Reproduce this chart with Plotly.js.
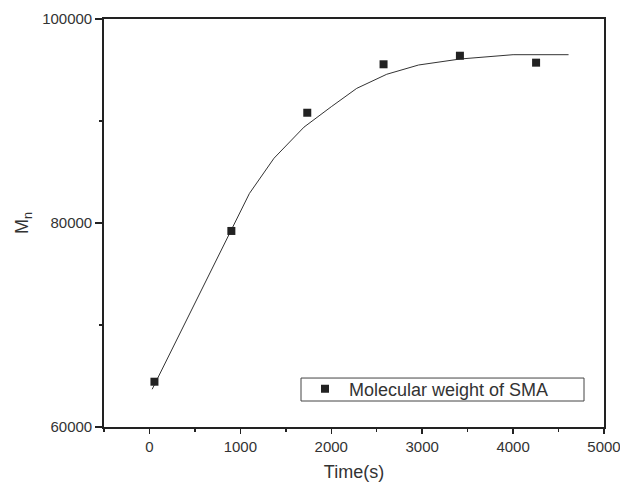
<!DOCTYPE html>
<html>
<head>
<meta charset="utf-8">
<script src="https://cdn.plot.ly/plotly-3.0.1.min.js"></script>
<style>html,body{margin:0;padding:0;background:#fff;}#chart{width:620px;height:482px;}</style>
</head>
<body>
<div id="chart"></div>
<script>
// measured data points
var timeS = [55, 901, 1736, 2575, 3415, 4253];
var mn = [64440, 79220, 90810, 95560, 96400, 95720];
// fitted curve
var fitT = [30, 900, 1100, 1370, 1700, 2000, 2280, 2610, 2960, 3420, 3750, 4000, 4610];
var fitM = [63700, 79300, 82900, 86350, 89400, 91400, 93200, 94580, 95490, 96080, 96300, 96500, 96500];
var seriesName = "Molecular weight of SMA";

var font = "Liberation Sans, Arial, sans-serif";
var traces = [
  {x: fitT, y: fitM, type: "scatter", mode: "lines", showlegend: false, hoverinfo: "skip",
   line: {color: "#333333", width: 1}},
  {x: timeS, y: mn, type: "scatter", mode: "markers", name: seriesName,
   marker: {symbol: "square", size: 8, color: "#222222"}}
];
var axisCommon = {
  showgrid: false, zeroline: false, showline: true, linecolor: "#222222", linewidth: 1.8,
  mirror: true, ticks: "outside", tickcolor: "#222222", tickwidth: 1.5,
  ticklabeloverflow: "allow",
  tickfont: {family: font, size: 15, color: "#333333"}
};
var layout = {
  width: 620, height: 482,
  margin: {l: 104, r: 16, t: 19, b: 55},
  paper_bgcolor: "#ffffff", plot_bgcolor: "#ffffff",
  font: {family: font, color: "#333333"},
  xaxis: Object.assign({}, axisCommon, {
    range: [-500, 5000], tickmode: "linear", tick0: 0, dtick: 1000, ticklen: 5,
    minor: {dtick: 500, ticklen: 3, tickcolor: "#222222", showgrid: false},
    title: {text: "Time(s)", font: {family: font, size: 18, color: "#333333"}, standoff: 16}
  }),
  yaxis: Object.assign({}, axisCommon, {
    range: [60000, 100000], tickmode: "linear", tick0: 60000, dtick: 20000, ticklen: 7,
    tickformat: "d",
    minor: {dtick: 10000, ticklen: 3, tickcolor: "#222222", showgrid: false},
    title: {text: "M<sub>n</sub>", font: {family: font, size: 18, color: "#333333"}, standoff: 9}
  }),
  legend: {
    x: 0.394, y: 0.1385, xanchor: "left", yanchor: "top",
    itemwidth: 38,
    bgcolor: "rgba(0,0,0,0)", borderwidth: 0,
    font: {family: font, size: 18, color: "#333333"}
  },
  shapes: [{
    type: "rect", xref: "paper", yref: "paper",
    x0: 0.394, x1: 0.96, y0: 0.0637, y1: 0.120,
    line: {color: "#444444", width: 1}, fillcolor: "rgba(0,0,0,0)"
  }],
  showlegend: true
};
Plotly.newPlot("chart", traces, layout, {displayModeBar: false, staticPlot: true});
</script>
</body>
</html>
